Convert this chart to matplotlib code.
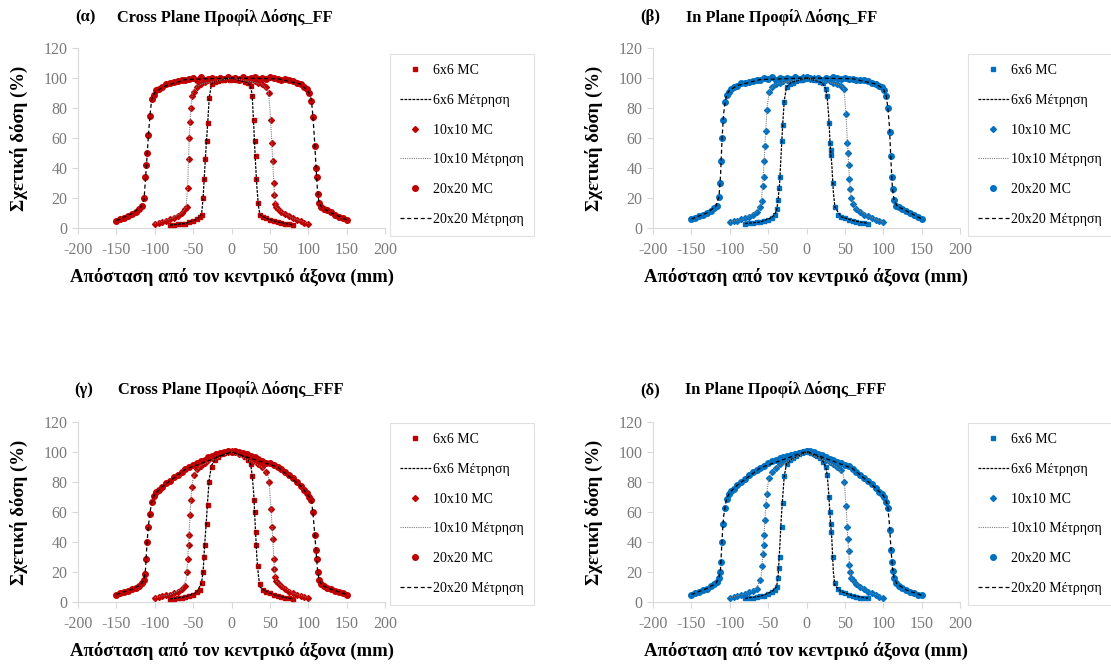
import matplotlib
matplotlib.use("Agg")
import matplotlib.pyplot as plt

plt.rcParams['font.family'] = ['Liberation Serif', 'DejaVu Serif']
plt.rcParams['axes.unicode_minus'] = False

# ==============================
# DATA
# ==============================

# MC sample positions (mm), shared by all panels
x20 = [-150, -145, -140, -135, -130, -125, -120, -117, -114, -112.5, -111, -110, -108.5, -106, -104, -101.5,
       -98, -95, -90, -85, -80, -75, -70, -65, -60, -55, -50, -45, -40, -35, -30, -25, -20, -15, -10, -5,
       0, 5, 10, 15, 20, 25, 30, 35, 40, 45, 50, 55, 60, 65, 70, 75, 80, 85, 90, 95, 98,
       101.5, 104, 106, 108.5, 110, 111, 112.5, 114, 117, 120, 125, 130, 135, 140, 145, 150]
x10 = [-100, -95, -90, -85, -80, -75, -70, -65, -60, -58, -57, -56, -55, -54, -53, -51.5, -49, -45,
       -40, -35, -30, -25, -20, -15, -10, -5, 0, 5, 10, 15, 20, 25, 30, 35, 40,
       45, 49, 51.5, 53, 54, 55, 56, 57, 58, 60, 65, 70, 75, 80, 85, 90, 95, 100]
x6 = [-80, -75, -70, -65, -60, -55, -50, -45, -41, -38.5, -37, -35.5, -34, -32, -31, -29, -26,
      -22, -18, -14, -10, -6, -2, 2, 6, 10, 14, 18, 22,
      25, 27, 29.5, 30.5, 31.5, 32.5, 34.5, 37, 41, 45, 50, 55, 60, 65, 70, 75, 80]

# measurement positions (mm)
xm20 = [-150, -130, -118, -114, -112, -110, -108, -106, -104, -100, -90, -60, 0,
        60, 90, 100, 104, 106, 108, 110, 112, 114, 118, 130, 150]
xm10 = [-100, -80, -65, -59, -57, -55, -53, -51, -48, -40, 0, 40, 48, 50, 52, 54, 56, 58, 65, 80, 100]
xm6 = [-80, -60, -45, -39, -37, -35, -33, -31, -29, -26, -20, 0, 20, 25, 27, 29, 31, 33, 35, 37, 45, 60, 80]

# (α) Cross Plane FF
a_mc6 = [2, 2.2, 2.5, 2.8, 3, 3.8, 4.5, 6, 7.5, 9, 20, 33, 46, 58, 70, 87, 96,
         97.5, 98, 99, 98.5, 99.5, 99, 100, 99, 99.5, 98.5, 97.5, 96.5,
         95, 88, 72, 58, 48, 33, 17, 9, 7.5, 6.5, 5.5, 4.5, 4, 3.5, 3, 2.5, 2]
a_mc10 = [3, 3.5, 4, 5, 6, 7, 8, 10, 13, 14, 27, 46, 60, 71, 80, 88, 91, 94,
          96, 97.5, 98.5, 99, 99.5, 100, 99.5, 100, 99.5, 100, 99.5, 100, 99, 99, 98, 97, 96,
          94, 90, 72, 57, 45, 30, 22, 16, 14, 13, 11, 9.5, 8, 6.5, 5.5, 4.5, 3.5, 3]
a_mc20 = [5, 6, 7, 8, 9.5, 11, 13, 14.5, 20, 34, 42, 50, 62, 75, 86, 89,
          92, 93, 94, 96, 97, 97.5, 98, 99, 98.5, 99.5, 100, 99, 100.5, 99, 99.5, 100, 99, 100, 99.5, 100.5,
          99.5, 100, 99, 100.5, 99.5, 100, 100.5, 99.5, 100, 99.5, 100.5, 100, 99.5, 99, 99.5, 98.5, 98, 97, 96, 94, 92.5,
          90, 85, 74, 55, 40, 34, 23, 17, 14, 13, 12, 10.5, 9, 7.5, 6.5, 5.5]
a_m6 = [2, 3, 6, 9, 20, 38, 55, 70, 87, 96, 98, 100, 97, 95, 88, 68, 46, 28, 15, 9, 6.5, 4, 2]
a_m10 = [3, 6, 10, 14, 30, 62, 80, 90, 93, 96, 100, 96, 91, 80, 62, 42, 22, 14, 11, 6.5, 3]
a_m20 = [5, 9.5, 14, 19, 33, 48, 64, 76, 86, 90, 94, 99, 100, 99.5, 96, 91, 86, 75, 60, 42, 25, 17, 13.5, 10, 5.5]

# (β) In Plane FF
b_mc6 = [3, 3.2, 3.5, 3.8, 4, 4.5, 5.5, 7, 9, 13, 19, 27, 34, 58, 69, 84, 94,
         96, 97, 98, 98.5, 99, 99.5, 100, 99.5, 99, 98.5, 97.5, 97,
         93, 88, 70, 57, 52, 49, 30, 14, 9, 7.5, 6.5, 5.5, 5, 4.2, 3.5, 3.2, 3]
b_mc10 = [4, 4.5, 5, 6, 6.5, 7.5, 9, 11, 14, 18, 28, 34, 45, 55, 65, 79, 91, 94,
          96, 97, 98, 99, 99.5, 100, 99.5, 100.5, 100, 99.5, 100, 99.5, 99, 98.5, 98, 97, 96,
          95, 93, 76, 57, 50, 42, 33, 26, 20, 16, 13, 11, 9, 8, 6.5, 5.5, 4.5, 4]
b_mc20 = [6, 7, 8, 9, 10, 11.5, 13.5, 15, 21, 30, 45, 60, 72, 84, 89, 91,
          93, 94, 95, 96.5, 97, 97.5, 98, 99, 99, 100, 99.5, 100.5, 99, 100, 99.5, 100, 99.5, 100.5, 99.5, 100,
          101, 100, 99.5, 100, 99, 100, 99.5, 100.5, 100, 99.5, 100, 99.5, 99.5, 99, 99, 98.5, 98, 97, 96, 95, 94,
          92, 88, 80, 64, 48, 34, 26, 19, 15, 14, 13, 11.5, 10, 9, 7.5, 6]
b_m6 = [3, 4, 7, 11, 19, 30, 50, 69, 85, 94, 97, 100, 97, 93, 87, 74, 54, 42, 24, 14, 7.5, 5, 3]
b_m10 = [4, 6.5, 11, 17, 30, 46, 66, 82, 92, 96, 100, 96, 94, 86, 70, 50, 33, 20, 13, 8, 4]
b_m20 = [6, 10, 14.5, 21, 35, 60, 76, 84, 89, 92, 95, 99, 100, 99.5, 96, 93, 88, 80, 68, 45, 26, 19, 14.5, 11.5, 6]

# (γ) Cross Plane FFF
c_mc6 = [2, 2.3, 2.6, 3, 3.5, 4.2, 5, 6.5, 8, 13, 20, 30, 38, 52, 65, 80, 90,
         95, 97, 98.5, 99.5, 100, 100.5, 100, 100, 99.5, 98.5, 97, 95,
         92, 84, 68, 60, 47, 38, 24, 12, 8, 7, 6, 5, 4, 3.5, 3, 2.5, 2]
c_mc10 = [3, 3.5, 4, 4.5, 5, 6, 7, 8.5, 11, 20, 29, 38, 45, 58, 68, 77, 85, 89,
          91, 92.5, 94.5, 96, 97.5, 99, 99.5, 100, 100.5, 100, 99, 98, 97, 95.5, 94, 92, 90,
          87, 80, 62, 50, 42, 29, 22, 17, 14, 12.5, 11, 8.5, 7, 6, 5, 4, 3.5, 3]
c_mc20 = [5, 5.8, 6.5, 7.5, 8.5, 9.5, 11, 12.5, 15, 19, 29, 40, 50, 59, 67, 71,
          73.5, 75, 77, 79.5, 81, 83.5, 85, 87, 88.5, 90, 91.5, 93, 94, 95, 96.5, 97.5, 98.5, 99.5, 100, 100.5,
          100, 100.5, 100, 99.5, 98.5, 97.5, 96.5, 95.5, 94, 93, 92.5, 91.5, 90, 88.5, 87, 85, 82.5, 80, 77.5, 75, 73,
          70, 68, 60, 45, 35, 29, 20, 15, 12, 10.5, 9.5, 8.5, 7.5, 6.5, 5.8, 5]
c_m6 = [2, 3.5, 6.5, 13, 20, 38, 52, 68, 82, 91, 96.5, 100, 96, 92, 84, 72, 50, 30, 18, 10, 7, 4, 2]
c_m10 = [3, 5, 8.5, 15, 29, 48, 68, 80, 86, 91, 100, 90, 84, 73, 58, 40, 22, 14, 11, 6, 3]
c_m20 = [5, 8.5, 11.5, 15, 22, 40, 52, 60, 67, 72, 77, 88.5, 100, 90, 77.5, 71, 68, 60, 48, 35, 22, 15, 11, 8.5, 5]

# (δ) In Plane FFF
d_mc6 = [2.5, 2.7, 3, 3.3, 3.7, 4.2, 5.5, 7, 8, 10, 16, 23, 30, 50, 66, 84, 92,
         94.5, 96, 97.5, 99, 100, 100.5, 100, 99.5, 99, 97.5, 96, 93.5,
         90, 85, 70, 60, 52, 47, 30, 13, 9, 7, 6, 5, 4.2, 3.5, 3, 2.7, 2.5]
d_mc10 = [3, 3.5, 4, 4.5, 5.5, 6.5, 7.5, 9, 15, 24, 32, 38, 45, 55, 65, 72, 83, 86.5,
          89.5, 92, 94, 96, 97.5, 98.5, 99.5, 100, 100.5, 100, 99, 98, 96.5, 95, 93.5, 92, 90,
          88, 80, 64, 50, 42, 34, 25, 20, 16, 14.5, 12, 10, 8.5, 7, 6, 4.5, 3.5, 3]
d_mc20 = [5, 6, 7, 8, 9, 10.5, 12, 13.5, 16, 20, 27, 40, 52, 63, 69, 72,
          74, 75.5, 78, 80, 82, 84.5, 86.5, 88, 89.5, 91, 92.5, 94, 95, 96, 96.5, 97.5, 98, 99, 99.5, 100,
          100.5, 101, 100, 99, 98, 97, 95.5, 94.5, 93.5, 92.5, 91.5, 90.5, 89, 87, 85, 82.5, 80.5, 78.5, 76, 73.5, 72,
          70, 67, 63, 48, 35, 27, 21, 16, 12.5, 11, 9.5, 8, 7, 6, 5, 4.5]
d_m6 = [2.5, 3.8, 7, 10, 17, 35, 55, 70, 84, 92, 95, 100, 95.5, 90, 85, 72, 55, 42, 20, 11, 7, 4.2, 2.5]
d_m10 = [3, 5.5, 9, 17, 32, 47, 65, 76, 85, 89.5, 100, 90, 85, 75, 60, 41, 25, 16, 12, 7, 3]
d_m20 = [5, 9, 12.5, 16, 22, 42, 57, 64, 69, 73, 78, 89.5, 100.5, 89, 76, 71, 67, 63, 52, 36, 23, 16, 12, 8, 4.5]

panels = [
    ("(α)", "Cross Plane Προφίλ Δόσης_FF", "#C00000", a_mc6, a_m6, a_mc10, a_m10, a_mc20, a_m20),
    ("(β)", "In Plane Προφίλ Δόσης_FF", "#0070C0", b_mc6, b_m6, b_mc10, b_m10, b_mc20, b_m20),
    ("(γ)", "Cross Plane Προφίλ Δόσης_FFF", "#C00000", c_mc6, c_m6, c_mc10, c_m10, c_mc20, c_m20),
    ("(δ)", "In Plane Προφίλ Δόσης_FFF", "#0070C0", d_mc6, d_m6, d_mc10, d_m10, d_mc20, d_m20),
]

labels = ["6x6 MC", "6x6 Μέτρηση", "10x10 MC", "10x10 Μέτρηση", "20x20 MC", "20x20 Μέτρηση"]

# ==============================
# LAYOUT (pixels of a 1111x664 figure)
# ==============================

W, H = 1111, 664
ax_boxes = [(78, 48), (653, 48), (78, 422), (653, 422)]   # left, top
ax_w, ax_h = 307, 180
legend_centers = [(462, 145), (1040, 145), (462, 514), (1040, 514)]
tag_pos = [(85, 17), (650, 17), (84, 390), (650, 390)]
title_pos = [(117, 17), (686, 17), (118, 390), (685, 390)]

grey = "#d9d9d9"
tick_grey = "#7a7a7a"

fig = plt.figure(figsize=(W / 100, H / 100), dpi=100)

for i, (tag, title, col, mc6, m6, mc10, m10, mc20, m20) in enumerate(panels):
    left, top = ax_boxes[i]
    ax = fig.add_axes([left / W, 1 - (top + ax_h) / H, ax_w / W, ax_h / H])

    h1, = ax.plot(x6, mc6, linestyle="none", marker="s", markersize=3.4, color=col, zorder=3)
    h2, = ax.plot(xm6, m6, color="black", linewidth=0.9, dashes=(2.2, 1.0), zorder=4)
    h3, = ax.plot(x10, mc10, linestyle="none", marker="D", markersize=3.0, color=col, zorder=3)
    h4, = ax.plot(xm10, m10, color="#808080", linewidth=0.8, dashes=(1, 1), zorder=4)
    h5, = ax.plot(x20, mc20, linestyle="none", marker="o", markersize=4.0, color=col, zorder=3)
    h6, = ax.plot(xm20, m20, color="black", linewidth=0.9, dashes=(3.2, 2.2), zorder=4)

    ax.set_xlim(-200, 200)
    ax.set_ylim(0, 120)
    ax.set_xticks(range(-200, 201, 50))
    ax.set_yticks(range(0, 121, 20))

    for s in ["top", "right"]:
        ax.spines[s].set_visible(False)
    for s in ["left", "bottom"]:
        ax.spines[s].set_color(grey)
        ax.spines[s].set_linewidth(0.8)
    ax.tick_params(axis="both", colors=grey, labelcolor=tick_grey, labelsize=11.5,
                   length=4, width=0.8, direction="out")
    ax.tick_params(axis="x", pad=6)

    ax.set_xlabel("Απόσταση από τον κεντρικό άξονα (mm)", fontsize=13.5, fontweight="bold", labelpad=7)
    ax.set_ylabel("Σχετική δόση (%)", fontsize=13.5, fontweight="bold", labelpad=11)

    fig.text(tag_pos[i][0] / W, 1 - tag_pos[i][1] / H, tag, fontsize=12, fontweight="bold",
             ha="center", va="center")
    fig.text(title_pos[i][0] / W, 1 - title_pos[i][1] / H, title, fontsize=11.8, fontweight="bold",
             ha="left", va="center")

    leg = ax.legend([h1, h2, h3, h4, h5, h6], labels, loc="center",
                    bbox_to_anchor=(legend_centers[i][0] / W, 1 - legend_centers[i][1] / H),
                    bbox_transform=fig.transFigure, fontsize=10, frameon=True, fancybox=False,
                    edgecolor=grey, labelspacing=1.2, handlelength=2.2, handletextpad=0.2,
                    borderpad=0.75, borderaxespad=0)
    leg.get_frame().set_linewidth(0.8)

fig.savefig("out.png", dpi=100)
